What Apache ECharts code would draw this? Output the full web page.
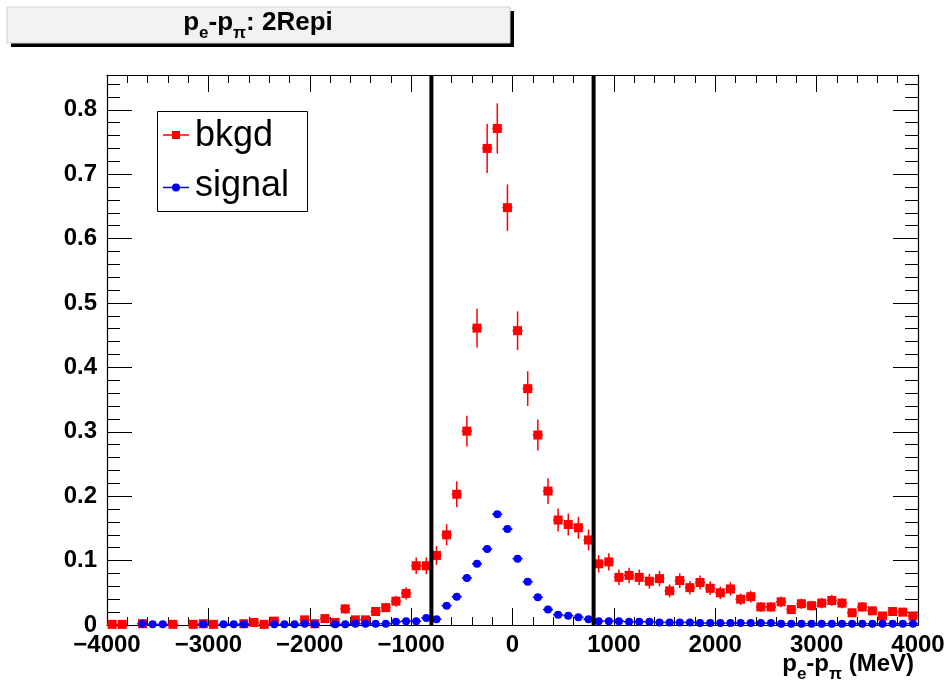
<!DOCTYPE html>
<html>
<head>
<meta charset="utf-8">
<script src="https://cdn.jsdelivr.net/npm/echarts@6/dist/echarts.min.js"></script>
<style>
html,body{margin:0;padding:0;background:#fff;}
#main{width:948px;height:687px;}
</style>
</head>
<body>
<div id="main"></div>
<script>
// ---- data (bin centers in MeV, 100 MeV bins) ----
const centers = [-3950,-3850,-3750,-3650,-3550,-3450,-3350,-3250,-3150,-3050,
  -2950,-2850,-2750,-2650,-2550,-2450,-2350,-2250,-2150,-2050,
  -1950,-1850,-1750,-1650,-1550,-1450,-1350,-1250,-1150,-1050,
  -950,-850,-750,-650,-550,-450,-350,-250,-150,-50,
  50,150,250,350,450,550,650,750,850,950,
  1050,1150,1250,1350,1450,1550,1650,1750,1850,1950,
  2050,2150,2250,2350,2450,2550,2650,2750,2850,2950,
  3050,3150,3250,3350,3450,3550,3650,3750,3850,3950];

const bkgd = [0.001,0.001,null,0.002,null,null,0.001,null,0.001,0.002,
  0.001,null,null,0.002,0.004,0.001,0.006,null,null,0.008,
  0.002,0.010,0.004,0.025,0.008,0.008,0.021,0.027,0.037,0.049,
  0.092,0.092,0.108,0.140,0.203,0.301,0.461,0.740,0.771,0.648,
  0.457,0.367,0.295,0.208,0.163,0.156,0.151,0.132,0.095,0.098,
  0.074,0.077,0.074,0.068,0.072,0.053,0.069,0.058,0.066,0.057,
  0.050,0.056,0.040,0.044,0.028,0.028,0.036,0.024,0.033,0.030,
  0.034,0.038,0.034,0.019,0.028,0.022,0.014,0.021,0.020,0.014];

const bkgdErr = [0.0015,0.0015,null,0.002,null,null,0.0015,null,0.0015,0.002,
  0.0015,null,null,0.002,0.003,0.0015,0.0035,null,null,0.004,
  0.002,0.0045,0.003,0.007,0.004,0.004,0.0065,0.007,0.0085,0.0095,
  0.013,0.013,0.0145,0.0165,0.020,0.024,0.030,0.038,0.039,0.036,
  0.030,0.027,0.024,0.020,0.018,0.017,0.017,0.016,0.0135,0.0135,
  0.012,0.012,0.012,0.0115,0.012,0.010,0.0115,0.0105,0.011,0.0105,
  0.0098,0.0104,0.0088,0.0092,0.0074,0.0074,0.0083,0.0068,0.008,0.0076,
  0.0081,0.0086,0.0081,0.006,0.0074,0.0065,0.0052,0.0064,0.0062,0.0052];

const signal = [null,null,null,0.002,0.001,0.001,null,null,null,0.001,
  null,0.001,0.001,0.001,null,null,0.001,0.001,0.001,0.002,
  0.001,null,0.001,0.001,0.002,0.002,0.002,0.002,0.005,0.006,
  0.006,0.011,0.009,0.030,0.044,0.073,0.095,0.118,0.172,0.149,
  0.103,0.067,0.043,0.024,0.016,0.0145,0.012,0.009,0.006,0.006,
  0.006,0.005,0.005,0.005,0.004,0.004,0.004,0.004,0.003,0.003,
  0.003,0.003,0.003,0.003,0.003,0.003,0.002,0.002,0.002,0.002,
  0.002,0.002,0.002,0.002,0.002,0.002,0.002,0.002,0.002,0.002];

const cutLines = [-800, 800];
const binWidth = 100;
const xMin = -4000, xMax = 4000, xStep = 1000;
const yMin = 0, yMax = 0.854, yStep = 0.1;

// ---- build ----
const FONT = '"Liberation Sans", "Helvetica", Arial, sans-serif';
const bkgdPts = [], signalPts = [];
centers.forEach((c, i) => {
  if (bkgd[i] != null) bkgdPts.push([c, bkgd[i], bkgdErr[i]]);
  if (signal[i] != null) signalPts.push([c, signal[i]]);
});

function errRender(color, withVert) {
  return function (params, api) {
    const x = api.value(0), y = api.value(1), e = withVert ? api.value(2) : 0;
    const l = api.coord([x - binWidth / 2, y]);
    const r = api.coord([x + binWidth / 2, y]);
    const children = [{
      type: 'line', shape: {x1: l[0], y1: l[1], x2: r[0], y2: r[1]},
      style: {stroke: color, lineWidth: 1.5}
    }];
    if (withVert) {
      const lo = api.coord([x, Math.max(y - e, yMin)]);
      const hi = api.coord([x, y + e]);
      children.push({
        type: 'line', shape: {x1: lo[0], y1: lo[1], x2: hi[0], y2: hi[1]},
        style: {stroke: color, lineWidth: 1.5}
      });
    }
    return {type: 'group', children: children};
  };
}

function cutRender(params, api) {
  const x = api.value(0);
  const b = api.coord([x, yMin]);
  const t = api.coord([x, yMax]);
  return {type: 'line', shape: {x1: b[0], y1: b[1], x2: t[0], y2: t[1]},
    style: {stroke: '#000', lineWidth: 4}};
}

// text pieces with subscripts
const mctx = document.createElement('canvas').getContext('2d');
function measure(t, f) { mctx.font = f; return mctx.measureText(t).width; }
function composite(pieces, anchorX, midY, align, size, subSize, subDy) {
  const fMain = 'bold ' + size + 'px ' + FONT;
  const fSub = 'bold ' + subSize + 'px ' + FONT;
  let total = 0;
  pieces.forEach(p => { p.w = measure(p.t, p.sub ? fSub : fMain); total += p.w; });
  let x = align === 'center' ? anchorX - total / 2 : (align === 'right' ? anchorX - total : anchorX);
  const els = [];
  pieces.forEach(p => {
    els.push({type: 'text', z: 100, style: {
      text: p.t, x: x, y: midY + (p.sub ? subDy : 0),
      font: p.sub ? fSub : fMain, fill: '#000',
      align: 'left', verticalAlign: 'middle'
    }});
    x += p.w;
  });
  return els;
}

const titlePieces = [{t: 'p'}, {t: 'e', sub: true}, {t: '-p'}, {t: 'π', sub: true}, {t: ': 2Repi'}];
const xTitlePieces = [{t: 'p'}, {t: 'e', sub: true}, {t: '-p'}, {t: 'π', sub: true}, {t: ' (MeV)'}];

const graphics = [
  // title box shadow + box
  {type: 'rect', z: 90, shape: {x: 11, y: 11, width: 503, height: 36}, style: {fill: '#000'}},
  {type: 'rect', z: 91, shape: {x: 7, y: 7, width: 503, height: 36}, style: {fill: '#f2f2f2', stroke: '#d0d0d0', lineWidth: 1}},
  ...composite(titlePieces, 258, 23, 'center', 26, 17, 10),
  ...composite(xTitlePieces, 914, 664, 'right', 24, 17, 10),
  // legend
  {type: 'rect', z: 90, shape: {x: 157.5, y: 111.5, width: 150, height: 100}, style: {fill: '#fff', stroke: '#000', lineWidth: 1}},
  {type: 'line', z: 91, shape: {x1: 163, y1: 135, x2: 189, y2: 135}, style: {stroke: '#ff0000', lineWidth: 1.5}},
  {type: 'rect', z: 92, shape: {x: 172, y: 131, width: 8, height: 8}, style: {fill: '#ff0000'}},
  {type: 'line', z: 91, shape: {x1: 163, y1: 187.5, x2: 189, y2: 187.5}, style: {stroke: '#0000ff', lineWidth: 1.5}},
  {type: 'circle', z: 92, shape: {cx: 176, cy: 187.5, r: 4}, style: {fill: '#0000ff'}},
  {type: 'text', z: 92, style: {text: 'bkgd', x: 195, y: 136, font: '36px ' + FONT, fill: '#000', align: 'left', verticalAlign: 'middle'}},
  {type: 'text', z: 92, style: {text: 'signal', x: 195, y: 186, font: '36px ' + FONT, fill: '#000', align: 'left', verticalAlign: 'middle'}}
];

const fmtX = v => (v < 0 ? '\u2212' + Math.abs(v) : String(v));
const fmtY = v => (Math.abs(v) < 1e-9 ? '0' : (Math.round(v * 10) / 10).toString());

const axisLineStyle = {color: '#000', width: 1.2};
const option = {
  backgroundColor: '#fff',
  animation: false,
  grid: {left: 107, right: 30, top: 75, bottom: 62},
  xAxis: [{
    type: 'value', min: xMin, max: xMax, interval: xStep, position: 'bottom',
    axisLine: {show: true, onZero: false, lineStyle: axisLineStyle},
    axisTick: {show: true, inside: true, length: 17, lineStyle: {color: '#000', width: 1}},
    minorTick: {show: true, splitNumber: 5, length: 8, lineStyle: {color: '#000', width: 1}},
    splitLine: {show: false},
    axisLabel: {show: true, margin: 8, formatter: fmtX, color: '#000', fontFamily: FONT, fontWeight: 'bold', fontSize: 24}
  }, {
    type: 'value', min: xMin, max: xMax, interval: xStep, position: 'top',
    axisLine: {show: true, onZero: false, lineStyle: axisLineStyle},
    axisTick: {show: true, inside: true, length: 17, lineStyle: {color: '#000', width: 1}},
    minorTick: {show: true, splitNumber: 5, length: 8, lineStyle: {color: '#000', width: 1}},
    splitLine: {show: false}, axisLabel: {show: false}
  }],
  yAxis: [{
    type: 'value', min: yMin, max: yMax, interval: yStep, position: 'left',
    axisLine: {show: true, onZero: false, lineStyle: axisLineStyle},
    axisTick: {show: true, inside: true, length: 25, lineStyle: {color: '#000', width: 1}},
    minorTick: {show: true, splitNumber: 5, length: 13, lineStyle: {color: '#000', width: 1}},
    splitLine: {show: false},
    axisLabel: {show: true, margin: 10, showMaxLabel: false, formatter: fmtY, color: '#000', fontFamily: FONT, fontWeight: 'bold', fontSize: 24}
  }, {
    type: 'value', min: yMin, max: yMax, interval: yStep, position: 'right',
    axisLine: {show: true, onZero: false, lineStyle: axisLineStyle},
    axisTick: {show: true, inside: true, length: 25, lineStyle: {color: '#000', width: 1}},
    minorTick: {show: true, splitNumber: 5, length: 13, lineStyle: {color: '#000', width: 1}},
    splitLine: {show: false}, axisLabel: {show: false}
  }],
  series: [
    {name: 'bkgd-err', type: 'custom', renderItem: errRender('#ff0000', true), data: bkgdPts, z: 3, silent: true},
    {name: 'bkgd', type: 'scatter', data: bkgdPts, symbol: 'rect', symbolSize: 9, itemStyle: {color: '#ff0000', opacity: 1}, z: 4},
    {name: 'signal-err', type: 'custom', renderItem: errRender('#0000ff', false), data: signalPts, z: 5, silent: true},
    {name: 'signal', type: 'scatter', data: signalPts, symbol: 'circle', symbolSize: 8, itemStyle: {color: '#0000ff', opacity: 1}, z: 6},
    {name: 'cuts', type: 'custom', renderItem: cutRender, data: cutLines.map(v => [v, 0]), z: 10, silent: true}
  ],
  graphic: graphics
};

const chart = echarts.init(document.getElementById('main'), null, {renderer: 'canvas'});
chart.setOption(option);
</script>
</body>
</html>
